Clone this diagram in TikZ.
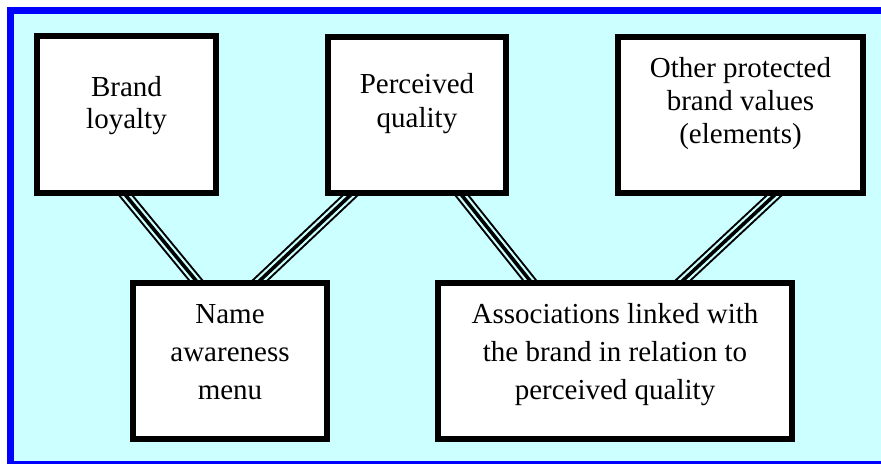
\documentclass[tikz,border=0pt]{standalone}
\usepackage{fontspec}
\setmainfont{Liberation Serif}
\pgfdeclarelayer{background}
\pgfsetlayers{background,main}
\definecolor{panelcyan}{RGB}{204,255,255}
\definecolor{framblue}{RGB}{0,0,255}
\tikzset{
  box/.style={draw=black, fill=white, line width=6pt, line join=miter, inner sep=0pt},
  txt/.style={align=center, inner sep=0pt, font=\rmfamily\fontsize{29}{#1}\selectfont},
  txt/.default=33,
  tripleline/.style={line cap=butt,
    preaction={draw=black, line width=12pt},
    preaction={draw=panelcyan, line width=8pt},
    draw=black, line width=3.6pt},
}
\begin{document}
\begin{tikzpicture}[x=1pt, y=-1pt]
\useasboundingbox (0,0) rectangle (881,464);

% boxes
\node[box, minimum width=179pt, minimum height=157pt] (A) at (126.5,114.5) {};
\node[box, minimum width=178pt, minimum height=156pt] (B) at (417,115) {};
\node[box, minimum width=245pt, minimum height=156pt] (C) at (740.5,115) {};
\node[box, minimum width=194pt, minimum height=156pt] (D) at (230,361) {};
\node[box, minimum width=354pt, minimum height=156pt] (E) at (615,361) {};

% labels
\node[txt=32] (At) at (126.5,106) {Brand\\loyalty};
\node[txt=34] (Bt) at (417,104) {Perceived\\quality};
\node[txt=33] (Ct) at (740.5,104) {Other protected\\brand values\\(elements)};
\node[txt=38] (Dt) at (230,352) {Name\\awareness\\menu};
\node[txt=38] (Et) at (615,354.5) {Associations linked with\\the brand in relation to\\perceived quality};

% anchor points of the connectors, tucked under the box borders
\coordinate (a1) at ([shift={(-6.8,-8)}]A.south);
\coordinate (b1) at ([shift={(-59,-8)}]B.south);
\coordinate (b2) at ([shift={(39,-8)}]B.south);
\coordinate (c1) at ([shift={(41.6,-8)}]C.south);
\coordinate (d1) at ([shift={(-28.7,7)}]D.north);
\coordinate (d2) at ([shift={(23,7)}]D.north);
\coordinate (e1) at ([shift={(-80,7)}]E.north);
\coordinate (e2) at ([shift={(60.9,7)}]E.north);

\begin{pgfonlayer}{background}
  % panel with its blue frame (runs on past the right edge)
  \fill[framblue] (7,7) rectangle (881,464);
  \fill[panelcyan] (14,14) rectangle (881,461);
  % triple-line connectors
  \draw[tripleline] (a1) -- (d1);
  \draw[tripleline] (b1) -- (d2);
  \draw[tripleline] (b2) -- (e1);
  \draw[tripleline] (c1) -- (e2);
\end{pgfonlayer}
\end{tikzpicture}
\end{document}
